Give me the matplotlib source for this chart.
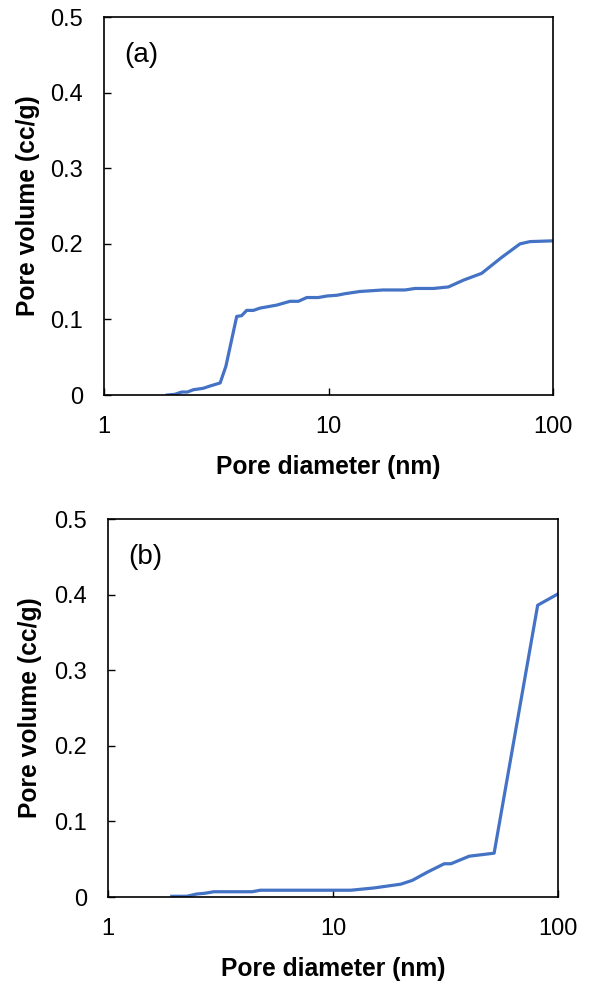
import matplotlib
matplotlib.use("Agg")
import matplotlib.pyplot as plt
from matplotlib.ticker import FixedLocator, FixedFormatter, NullLocator

plt.rcParams["font.family"] = ["Liberation Sans", "DejaVu Sans"]

# Panel (a): cumulative pore volume vs pore diameter
diam_a = [1.91, 2.07, 2.22, 2.35, 2.50, 2.77, 2.97, 3.29, 3.49, 3.90, 4.10,
          4.32, 4.63, 4.95, 5.88, 6.74, 7.34, 8.00, 9.01, 9.82, 10.9, 11.8,
          13.8, 17.5, 21.9, 24.3, 29.3, 34.2, 39.9, 48.1, 59.0, 71.3, 79.0, 100]
vol_a = [0.000, 0.001, 0.004, 0.004, 0.007, 0.009, 0.012, 0.016, 0.038, 0.104,
         0.105, 0.112, 0.112, 0.115, 0.119, 0.124, 0.124, 0.129, 0.129, 0.131,
         0.132, 0.134, 0.137, 0.139, 0.139, 0.141, 0.141, 0.143, 0.152, 0.161,
         0.182, 0.200, 0.203, 0.204]

# Panel (b)
diam_b = [1.92, 2.24, 2.48, 2.70, 2.95, 4.37, 4.75, 10.8, 12.0, 15.2, 20.0,
          22.5, 26.3, 31.2, 33.4, 40.3, 52.0, 81.2, 100]
vol_b = [0.001, 0.001, 0.004, 0.005, 0.007, 0.007, 0.009, 0.009, 0.009, 0.012,
         0.017, 0.022, 0.033, 0.044, 0.044, 0.054, 0.058, 0.386, 0.401]

x_ticks = [1, 10, 100]
x_tick_labels = ["1", "10", "100"]
y_ticks = [0, 0.1, 0.2, 0.3, 0.4, 0.5]
y_tick_labels = ["0", "0.1", "0.2", "0.3", "0.4", "0.5"]

LINE_COLOR = "#4472C4"

fig = plt.figure(figsize=(5.89, 9.81), dpi=100)
ax_a = fig.add_axes([0.1766, 0.5973, 0.7623, 0.3853])
ax_b = fig.add_axes([0.1834, 0.0856, 0.7640, 0.3853])

panels = [
    (ax_a, diam_a, vol_a, "(a)", -0.143, -0.159),
    (ax_b, diam_b, vol_b, "(b)", -0.147, -0.159),
]

for ax, x, y, tag, ylab_x, xlab_y in panels:
    ax.plot(x, y, color=LINE_COLOR, lw=2.3, solid_joinstyle="round", clip_on=True)
    ax.set_xscale("log")
    ax.set_xlim(1, 100)
    ax.set_ylim(0, 0.5)
    ax.xaxis.set_major_locator(FixedLocator(x_ticks))
    ax.xaxis.set_major_formatter(FixedFormatter(x_tick_labels))
    ax.xaxis.set_minor_locator(NullLocator())
    ax.yaxis.set_major_locator(FixedLocator(y_ticks))
    ax.yaxis.set_major_formatter(FixedFormatter(y_tick_labels))
    ax.tick_params(axis="both", which="major", direction="in", length=5,
                   width=1.0, labelsize=17, pad=15, color="black")
    for s in ax.spines.values():
        s.set_linewidth(1.2)
        s.set_color("black")
    ax.set_xlabel("Pore diameter (nm)", fontsize=17.7, fontweight="bold")
    ax.set_ylabel("Pore volume (cc/g)", fontsize=17.7, fontweight="bold")
    ax.xaxis.set_label_coords(0.5, xlab_y)
    ax.yaxis.set_label_coords(ylab_x, 0.5)
    ax.text(0.046, 0.899, tag, transform=ax.transAxes, fontsize=20,
            va="center", ha="left")

fig.savefig("out.png", dpi=100)
